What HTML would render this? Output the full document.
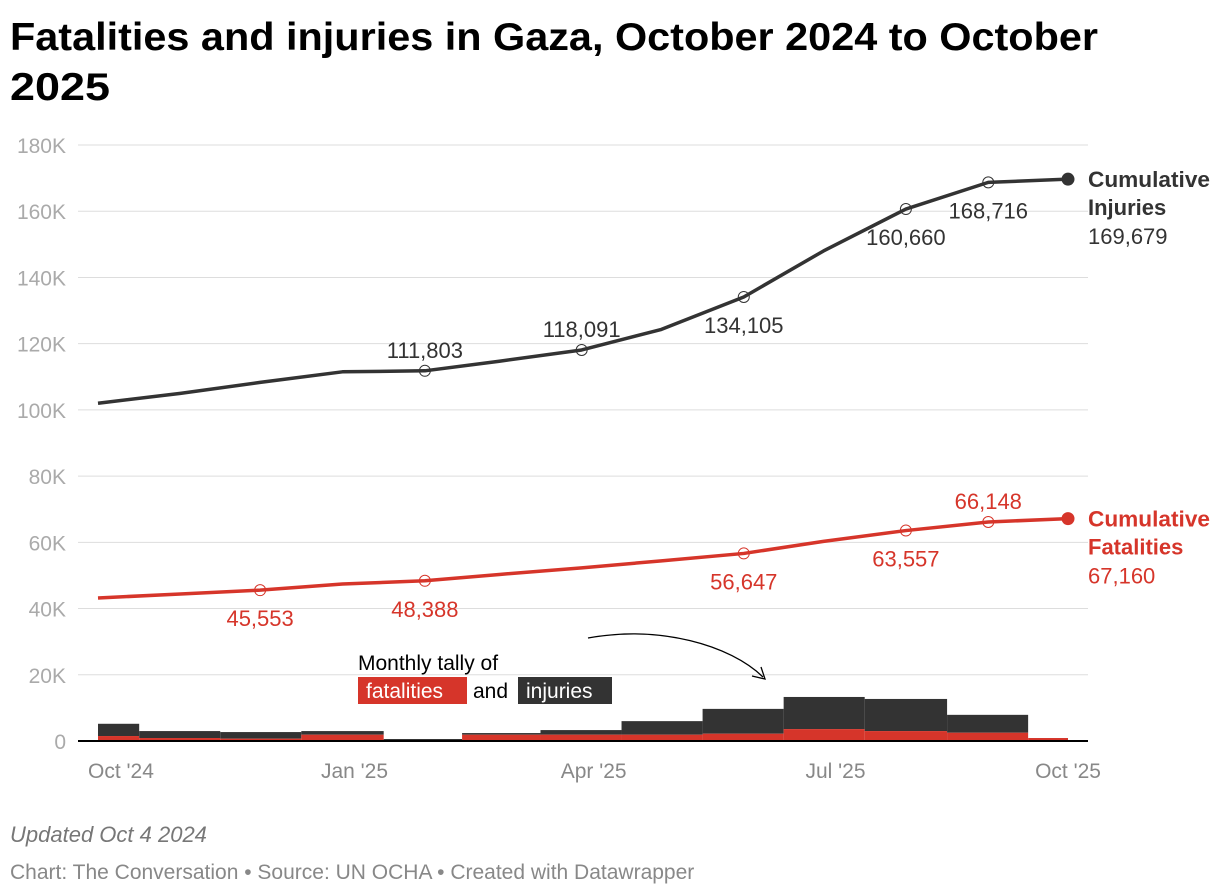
<!DOCTYPE html>
<html><head><meta charset="utf-8"><style>
html,body{margin:0;padding:0;background:#fff;}
svg{display:block;font-family:"Liberation Sans",Arial,sans-serif;}
</style></head><body>
<svg id="chart" width="1220" height="896" viewBox="0 0 1220 896">
<text x="10" y="50" font-size="39" font-weight="bold" fill="#000" textLength="1088" lengthAdjust="spacingAndGlyphs">Fatalities and injuries in Gaza, October 2024 to October</text>
<text x="10" y="100" font-size="39" font-weight="bold" fill="#000" textLength="100" lengthAdjust="spacingAndGlyphs">2025</text>
<g id="grid"></g>
<g id="bars"></g>
<g id="lines"></g>
<g id="labels"></g>
<g>
<text x="358" y="670" font-size="21" fill="#000">Monthly tally of</text>
<rect x="358" y="677" width="109" height="27" fill="#d6352a"/>
<text x="366" y="698" font-size="21" fill="#fff">fatalities</text>
<text x="473" y="698" font-size="21" fill="#000">and</text>
<rect x="518" y="677" width="94" height="27" fill="#333"/>
<text x="526" y="698" font-size="21" fill="#fff">injuries</text>
<path d="M588,638 C660,625 730,645 763,677" fill="none" stroke="#000" stroke-width="1.3"/>
<path d="M752,676 L765,679 L761,667" fill="none" stroke="#000" stroke-width="1.3"/>
</g>
<text x="10" y="842" font-size="22" font-style="italic" fill="#777">Updated Oct 4 2024</text>
<text x="10" y="879" font-size="21" fill="#888">Chart: The Conversation • Source: UN OCHA • Created with Datawrapper</text>
</svg>
<script>
// Data
const monthDays = [0,31,61,92,123,151,182,212,243,273,304,335,365]; // days since Oct 1 2024
const monthLabels = ["Oct","Nov","Dec","Jan","Feb","Mar","Apr","May","Jun","Jul","Aug","Sep","Oct"];
const cumInjuries = [102000,105000,108300,111500,111803,114700,118091,124300,134105,148000,160660,168716,169679];
const cumFatalities = [43200,44400,45553,47400,48388,50300,52300,54400,56647,60300,63557,66148,67160];
const monthlyFatalities = [1500,900,700,1900,0,1900,1900,1900,2200,3600,3000,2500,900];
const monthlyInjuries = [3700,2100,2000,1100,600,500,1400,4100,7500,9700,9700,5400,0];
const yTicks = [0,20000,40000,60000,80000,100000,120000,140000,160000,180000];
const yTickLabels = ["0","20K","40K","60K","80K","100K","120K","140K","160K","180K"];
const xTickDays = [0,92,182,273,365];
const xTickLabels = ["Oct '24","Jan '25","Apr '25","Jul '25","Oct '25"];
const injuryLabelIdx = [4,6,8,10,11];
const injuryLabelSide = [-1,-1,1,1,1];
const fatalLabelIdx = [2,4,8,10,11];
const fatalLabelSide = [1,1,1,1,-1];

const NS="http://www.w3.org/2000/svg";
const X0=98,X1=1068,Y0=741,Y1=145;
const x=d=>X0+(X1-X0)*d/365;
const y=v=>Y0-(Y0-Y1)*v/180000;
function mk(tag,attrs,parent,text){const e=document.createElementNS(NS,tag);for(const k in attrs)e.setAttribute(k,attrs[k]);if(text!==undefined)e.textContent=text;parent.appendChild(e);return e;}
const fmt=v=>v.toLocaleString("en-US");

const grid=document.getElementById("grid");
yTicks.forEach((t,i)=>{
  if(t>0){const l=mk("line",{x1:78,x2:1088,y1:y(t),y2:y(t),stroke:"#ddd","stroke-width":1},grid);
  
  }
  const tx=mk("text",{x:66,y:y(t)+8,"font-size":21,fill:"#aaa","text-anchor":"end"},grid,yTickLabels[i]);
  
  
});
xTickDays.forEach((d,i)=>{
  const last=i==xTickDays.length-1;
  const px=i==0?88:(last?x(d):x(d)+12);
  const tx=mk("text",{x:px,y:778,"font-size":21,fill:"#888","text-anchor":i==0?"start":"middle"},grid,xTickLabels[i]);
  
  
});

const bars=document.getElementById("bars");
monthDays.forEach((d,i)=>{
  const prev=i>0?monthDays[i-1]:d-30, next=i<monthDays.length-1?monthDays[i+1]:d+30;
  let a=Math.max(0,(prev+d)/2), b=Math.min(365,(d+next)/2);
  const xa=x(a),xb=x(b);
  const f=monthlyFatalities[i], inj=monthlyInjuries[i];
  const r1=mk("rect",{x:xa,y:y(f+inj),width:xb-xa,height:y(f)-y(f+inj),fill:"#333"},bars);
  
  
  const r2=mk("rect",{x:xa,y:y(f),width:xb-xa,height:Y0-y(f),fill:"#d6352a"},bars);
  
  
});
const base=mk("line",{x1:78,x2:1088,y1:Y0,y2:Y0,stroke:"#000","stroke-width":2},bars);



const lines=document.getElementById("lines");
const labels=document.getElementById("labels");
function series(vals,color,name,idx,side,endLabel1,endLabel2){
  const d=vals.map((v,i)=>(i?"L":"M")+x(monthDays[i])+","+y(v)).join(" ");
  const p=mk("path",{d:d,fill:"none",stroke:color,"stroke-width":3.5,"stroke-linejoin":"round"},lines);
  
  
  idx.forEach((k,j)=>{
    const cx=x(monthDays[k]),cy=y(vals[k]);
    const c=mk("circle",{cx:cx,cy:cy,r:5.5,fill:"none",stroke:color,"stroke-width":1},lines);
    
    
    const t=mk("text",{x:cx,y:side[j]<0?cy-13:cy+36,"font-size":22,fill:color,"text-anchor":"middle"},labels,fmt(vals[k]));
    
    
  });
  const last=vals.length-1,ex=x(monthDays[last]),ey=y(vals[last]);
  const e=mk("circle",{cx:ex,cy:ey,r:6.5,fill:color},lines);
  
  
  const t1=mk("text",{x:1088,y:ey+8,"font-size":22,"font-weight":"bold",fill:color,textLength:122,lengthAdjust:"spacingAndGlyphs"},labels,endLabel1);
  
  
  const t2=mk("text",{x:1088,y:ey+36,"font-size":22,"font-weight":"bold",fill:color},labels,endLabel2);
  
  
  const t3=mk("text",{x:1088,y:ey+65,"font-size":22,fill:color},labels,fmt(vals[last]));
  
  
}
series(cumInjuries,"#333","injuries",injuryLabelIdx,injuryLabelSide,"Cumulative","Injuries");
series(cumFatalities,"#d6352a","fatalities",fatalLabelIdx,fatalLabelSide,"Cumulative","Fatalities");
</script>
</body></html>
